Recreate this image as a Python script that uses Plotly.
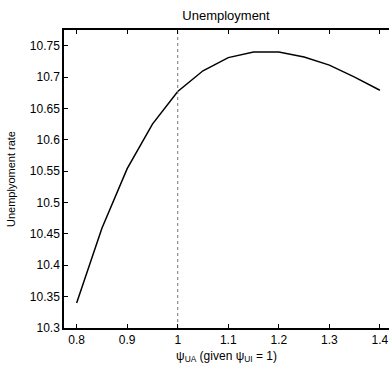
import plotly.graph_objects as go

psi_ua = [0.80, 0.85, 0.90, 0.95, 1.00, 1.05, 1.10, 1.15, 1.20, 1.25, 1.30, 1.35, 1.40]
unemployment = [10.340, 10.459, 10.554, 10.625, 10.677, 10.710, 10.731, 10.740, 10.740, 10.732, 10.719, 10.700, 10.679]
x_ticks = [0.8, 0.9, 1.0, 1.1, 1.2, 1.3, 1.4]
x_ticklabels = ["0.8", "0.9", "1", "1.1", "1.2", "1.3", "1.4"]
y_ticks = [10.3, 10.35, 10.4, 10.45, 10.5, 10.55, 10.6, 10.65, 10.7, 10.75]
y_ticklabels = ["10.3", "10.35", "10.4", "10.45", "10.5", "10.55", "10.6", "10.65", "10.7", "10.75"]
ref_x = 1.0

font = "Liberation Sans, Arial, sans-serif"

W, H = 389, 366

fig = go.Figure()
fig.add_trace(go.Scatter(x=psi_ua, y=unemployment, mode="lines",
                         line=dict(color="black", width=1.5), showlegend=False,
                         hoverinfo="skip"))
fig.add_trace(go.Scatter(x=[ref_x, ref_x], y=[10.3, 10.775], mode="lines",
                         line=dict(color="#777777", width=1, dash="dot"), showlegend=False,
                         hoverinfo="skip"))

fig.update_layout(
    width=W, height=H,
    margin=dict(l=64, r=0, t=30, b=38),
    paper_bgcolor="white", plot_bgcolor="white",
    font=dict(family=font, size=12, color="black"),
    title=dict(text="Unemployment", x=226 / W, xanchor="center", xref="container",
               y=1 - 15 / H, yref="container", yanchor="middle",
               font=dict(size=13, family=font, color="black")),
    xaxis=dict(range=[0.775, 1.418], tickvals=x_ticks, ticktext=x_ticklabels,
               ticks="inside", ticklen=4, tickcolor="black", tickwidth=1,
               showline=True, linecolor="black", linewidth=1.5, mirror="ticks",
               showgrid=False, zeroline=False, automargin=False,
               ticklabeloverflow="allow",
               tickfont=dict(size=12),
               title=dict(text="ψ<sub>UA</sub> (given ψ<sub>UI</sub> = 1)", standoff=5,
                          font=dict(size=12))),
    yaxis=dict(range=[10.3, 10.775], tickvals=y_ticks, ticktext=y_ticklabels,
               ticks="inside", ticklen=4, tickcolor="black", tickwidth=1,
               showline=True, linecolor="black", linewidth=1.5, mirror=False,
               showgrid=False, zeroline=False, automargin=False,
               tickfont=dict(size=12),
               title=dict(text="Unemplyoment rate", standoff=12, font=dict(size=11))),
)

fig.write_html("out.html", config={"displayModeBar": False},
               post_script="document.body.style.margin='0';document.body.style.overflow='hidden';")
